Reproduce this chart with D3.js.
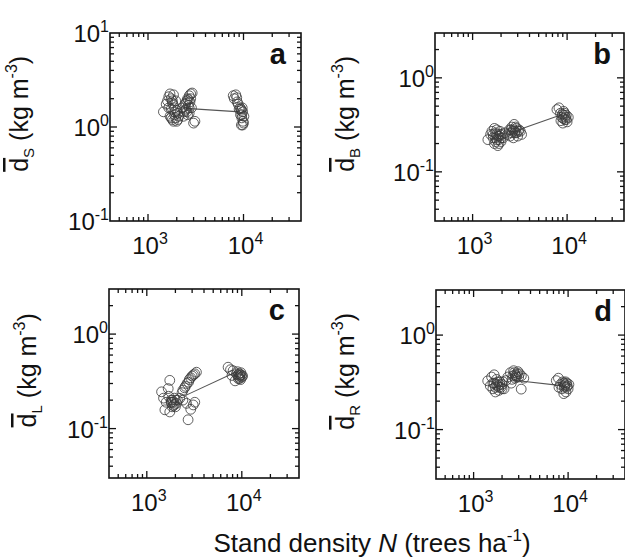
<!DOCTYPE html>
<html>
<head>
<meta charset="utf-8">
<script src="https://cdn.jsdelivr.net/npm/d3@7"></script>
<style>
  html, body { margin: 0; padding: 0; background: #fff; }
  svg { display: block; }
  text { font-family: "Liberation Sans", Arial, Helvetica, sans-serif; fill: #111; }
</style>
</head>
<body>
<svg id="chart" width="625" height="558"></svg>
<script>
// Stand density N (trees/ha) and mean organ density d (kg/m^3) for each panel.
// Stem (a)
const stemN = [1450,1550,1600,1650,1700,1750,1800,1750,1700,1800,1850,1900,1950,2000,2050,1900,2000,1850,
               1800,1850,1900,1950,2050,2100,1750,1650,
               2300,2400,2450,2500,2550,2600,2650,2700,2800,2900,2750,2600,2350,3000,3100,2850,
               2500,2550,2650,2700,2700,2800,2450,
               7800,8000,8300,8600,8800,9200,9500,9800,9300,9600,9900,9500,10000,9000,
               9400,9700,9600,10100,9800,8500];
const stemD = [1.45,1.75,1.9,2.1,2.25,2.0,1.8,1.55,1.3,1.2,1.15,1.35,1.25,1.15,1.4,1.6,1.5,2.2,
               1.9,1.7,1.45,1.9,1.2,1.3,1.25,1.6,
               1.6,1.45,1.75,1.55,1.9,2.0,1.7,2.15,2.25,2.3,1.85,1.35,1.3,1.1,1.15,1.6,
               1.8,1.45,1.95,1.6,1.4,2.0,1.5,
               2.15,2.0,2.2,1.85,1.75,1.6,1.5,1.45,1.35,1.25,1.15,1.05,1.1,1.55,
               1.55,1.6,1.35,1.3,1.05,2.05];
// Branch (b)
const branchN = [1450,1550,1600,1650,1700,1750,1800,1800,1850,1900,1950,2000,2050,2100,2200,1700,
                 1750,1800,1850,1900,1950,1650,2000,1900,1750,
                 2350,2450,2500,2600,2650,2750,2800,2900,3000,3100,3200,3300,2700,
                 2600,2700,2800,2900,2850,3050,2550,
                 7800,8200,8500,8800,9200,9500,9800,10000,10300,9000,8600,
                 9300,9600,9100,9800,9400,8900];
const branchD = [0.22,0.25,0.27,0.23,0.20,0.26,0.28,0.22,0.19,0.24,0.27,0.21,0.25,0.23,0.26,0.29,
                 0.23,0.25,0.24,0.22,0.25,0.25,0.23,0.20,0.21,
                 0.25,0.28,0.24,0.30,0.27,0.32,0.26,0.29,0.24,0.28,0.27,0.25,0.23,
                 0.26,0.28,0.27,0.26,0.30,0.27,0.28,
                 0.46,0.48,0.42,0.38,0.44,0.36,0.40,0.34,0.38,0.33,0.35,
                 0.40,0.38,0.37,0.36,0.42,0.41];
// Leaf (c)
const leafN = [1430,1500,1550,1600,1680,1745,1745,1800,1820,1900,1950,2000,2100,1700,
               1800,1850,1900,1950,1850,2000,2050,
               2225,2350,2500,2650,2800,3000,3200,3330,2620,3080,3200,2720,2900,2400,
               2400,2550,2750,2900,3100,
               7170,7600,8100,8500,8770,9200,9500,9800,10000,7880,9000,9700,
               9100,9400,9600,9300,9900,10200,9500];
const leafD = [0.245,0.21,0.158,0.19,0.265,0.324,0.15,0.20,0.19,0.175,0.21,0.17,0.20,0.22,
               0.19,0.20,0.19,0.18,0.17,0.20,0.185,
               0.209,0.24,0.27,0.30,0.33,0.36,0.38,0.395,0.185,0.178,0.19,0.124,0.16,0.20,
               0.255,0.28,0.31,0.345,0.37,
               0.446,0.42,0.41,0.32,0.38,0.337,0.36,0.39,0.35,0.365,0.40,0.33,
               0.37,0.38,0.37,0.35,0.37,0.36,0.34];
// Root (d)
const rootN = [1410,1500,1550,1600,1650,1700,1750,1800,1850,1900,1950,2000,2100,2200,1650,
               1750,1800,1850,1900,1700,2000,2050,1600,
               2300,2450,2550,2650,2750,2850,2950,3050,3200,3400,3190,2500,
               2600,2700,2800,2900,3000,2750,
               7500,7900,8300,8600,8800,9200,9500,9700,10000,9000,10200,8000,
               9000,9300,9600,9100,9400,9800];
const rootD = [0.328,0.29,0.36,0.27,0.31,0.25,0.34,0.29,0.26,0.32,0.28,0.30,0.27,0.33,0.38,
               0.30,0.32,0.28,0.30,0.28,0.27,0.32,0.31,
               0.36,0.40,0.34,0.42,0.38,0.36,0.41,0.39,0.37,0.35,0.268,0.31,
               0.37,0.40,0.37,0.39,0.36,0.35,
               0.33,0.35,0.30,0.27,0.32,0.29,0.25,0.31,0.27,0.24,0.30,0.28,
               0.31,0.30,0.28,0.28,0.32,0.29];

// Trend segments between the low- and high-density groups: [N0, d0, N1, d1]
const stemTrend   = [2500, 1.58, 9200, 1.45];
const branchTrend = [2500, 0.26, 9000, 0.41];
const leafTrend   = [2600, 0.226, 8800, 0.40];
const rootTrend   = [2800, 0.331, 9000, 0.29];

const letters   = ["a", "b", "c", "d"];
const subscripts = ["S", "B", "L", "R"];
const xDomain = [400, 40000];
const yDomains = [[0.1, 10], [0.03, 3], [0.03, 3], [0.03, 3]];

const seriesN = [stemN, branchN, leafN, rootN];
const seriesD = [stemD, branchD, leafD, rootD];
const trends  = [stemTrend, branchTrend, leafTrend, rootTrend];

// Panel frames
const frames = [
  {x: 110, y: 33,  w: 191, h: 188, labelX: 28},
  {x: 435, y: 33,  w: 189, h: 188, labelX: 354},
  {x: 109, y: 289, w: 190, h: 189, labelX: 36},
  {x: 436, y: 290, w: 189, h: 189, labelX: 354}
];

const svg = d3.select("#chart");
const majorLen = 7, minorLen = 4;
const isMajor = v => Math.abs(Math.log10(v) - Math.round(Math.log10(v))) < 1e-9;

function powLabel(sel, exp, size, supSize) {
  sel.append("tspan").attr("font-size", size).text("10");
  sel.append("tspan").attr("font-size", supSize).attr("dy", -size * 0.42).text(exp);
}

frames.forEach((f, i) => {
  const g = svg.append("g").attr("transform", `translate(${f.x},${f.y})`);
  const x = d3.scaleLog().domain(xDomain).range([0, f.w]);
  const y = d3.scaleLog().domain(yDomains[i]).range([f.h, 0]);

  // ticks on all four sides, pointing inward
  const xt = x.ticks().filter(v => v > xDomain[0] && v < xDomain[1]);
  const yt = y.ticks().filter(v => v > yDomains[i][0] && v < yDomains[i][1]);
  const tg = g.append("g").attr("stroke", "#111").attr("stroke-width", 1.3);
  xt.forEach(v => {
    const L = isMajor(v) ? majorLen : minorLen;
    const px = x(v);
    tg.append("line").attr("x1", px).attr("x2", px).attr("y1", f.h).attr("y2", f.h - L);
    tg.append("line").attr("x1", px).attr("x2", px).attr("y1", 0).attr("y2", L);
  });
  yt.forEach(v => {
    const L = isMajor(v) ? majorLen : minorLen;
    const py = y(v);
    tg.append("line").attr("x1", 0).attr("x2", L).attr("y1", py).attr("y2", py);
    tg.append("line").attr("x1", f.w).attr("x2", f.w - L).attr("y1", py).attr("y2", py);
  });

  // tick labels
  const xMaj = x.ticks().filter(isMajor);
  xMaj.forEach(v => {
    const t = g.append("text").attr("x", x(v) + 2).attr("y", f.h + 33).attr("text-anchor", "middle");
    powLabel(t, String(Math.round(Math.log10(v))), 24, 16);
  });
  const yMaj = y.ticks().filter(isMajor).concat(yDomains[i][1] === 10 ? [10] : []);
  const seen = new Set();
  yMaj.forEach(v => {
    const e = Math.round(Math.log10(v));
    if (seen.has(e)) return; seen.add(e);
    const t = g.append("text").attr("x", -1).attr("y", y(v) + 9).attr("text-anchor", "end");
    powLabel(t, String(e), 24, 16);
  });

  // trend segment
  const tr = trends[i];
  g.append("line")
    .attr("x1", x(tr[0])).attr("y1", y(tr[1]))
    .attr("x2", x(tr[2])).attr("y2", y(tr[3]))
    .attr("stroke", "#555").attr("stroke-width", 1.1);

  // data points
  const pts = seriesN[i].map((n, k) => [n, seriesD[i][k]]);
  g.append("g").selectAll("circle").data(pts).join("circle")
    .attr("cx", d => x(d[0])).attr("cy", d => y(d[1])).attr("r", 4.9)
    .attr("fill", "none").attr("stroke", "#3a3a3a").attr("stroke-width", 1)
    .attr("stroke-opacity", 0.8);

  // frame
  g.append("rect").attr("width", f.w).attr("height", f.h)
    .attr("fill", "none").attr("stroke", "#111").attr("stroke-width", 1.6);

  // panel letter
  g.append("text").attr("x", 176).attr("y", 31).attr("text-anchor", "end")
    .attr("font-size", 29).attr("font-weight", "bold").text(letters[i]);

  // y-axis title
  const cy = f.y + f.h * 0.43;
  const yl = svg.append("text")
    .attr("transform", `translate(${f.labelX},${cy}) rotate(-90)`)
    .attr("text-anchor", "middle").attr("font-size", 25);
  yl.append("tspan").attr("style", "text-decoration: overline").text("d");
  yl.append("tspan").attr("font-size", 15).attr("dy", 6).text(subscripts[i]);
  yl.append("tspan").attr("dy", -6).text(" (kg m");
  yl.append("tspan").attr("font-size", 16).attr("dy", -11).text("-3");
  yl.append("tspan").attr("dy", 11).text(")");
});

// shared x-axis title
const xl = svg.append("text").attr("x", 372).attr("y", 552)
  .attr("text-anchor", "middle").attr("font-size", 26);
xl.append("tspan").text("Stand density ");
xl.append("tspan").attr("font-style", "italic").text("N");
xl.append("tspan").text(" (trees ha");
xl.append("tspan").attr("font-size", 17).attr("dy", -11).text("-1");
xl.append("tspan").attr("dy", 11).text(")");
</script>
</body>
</html>
